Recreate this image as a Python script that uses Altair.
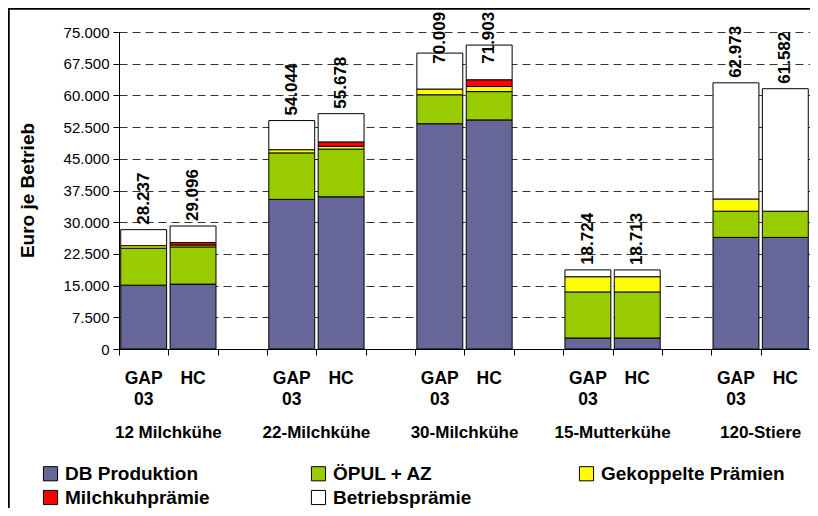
import altair as alt
import pandas as pd

groups = ["12 Milchkühe", "22-Milchkühe", "30-Milchkühe", "15-Mutterkühe", "120-Stiere"]
scenarios = ["GAP\n03", "HC"]
components = ["DB Produktion", "ÖPUL + AZ", "Gekoppelte Prämien", "Milchkuhprämie", "Betriebsprämie"]
colors = ["#666699", "#99CC00", "#FFFF00", "#FF0000", "#FFFFFF"]

# per bar: 12 GAP, 12 HC, 22 GAP, 22 HC, 30 GAP, 30 HC, 15 GAP, 15 HC, 120 GAP, 120 HC
db_produktion = [15100, 15350, 35400, 36000, 53300, 54200, 2600, 2600, 26400, 26400]
oepul_az = [8750, 8800, 11000, 11300, 6850, 6700, 10900, 10900, 6200, 6200]
gekoppelt = [600, 450, 750, 650, 1350, 1200, 3600, 3600, 2900, 0]
milchkuh = [0, 600, 0, 1050, 0, 1600, 0, 0, 0, 0]
betrieb = [3787, 3896, 6894, 6678, 8509, 8203, 1624, 1613, 27473, 28982]
totals = [28237, 29096, 54044, 55678, 70009, 71903, 18724, 18713, 62973, 61582]
total_labels = ["28.237", "29.096", "54.044", "55.678", "70.009", "71.903",
                "18.724", "18.713", "62.973", "61.582"]
y_ticks = [0, 7500, 15000, 22500, 30000, 37500, 45000, 52500, 60000, 67500, 75000]

FONT = "Liberation Sans"

slots = []
bar_slots = []
for gi, g in enumerate(groups):
    for s in scenarios:
        slots.append(f"{g}|{s}")
        bar_slots.append(f"{g}|{s}")
    if gi < len(groups) - 1:
        slots.append(f"spacer{gi}")

series = [db_produktion, oepul_az, gekoppelt, milchkuh, betrieb]
rows = []
for bi, slot in enumerate(bar_slots):
    for ci, comp in enumerate(components):
        v = series[ci][bi]
        if v > 0:
            rows.append({"slot": slot, "comp": comp, "ci": ci, "value": v})
bars_df = pd.DataFrame(rows)

lab_rows = []
for bi, slot in enumerate(bar_slots):
    g, s = slot.split("|")
    lab_rows.append({"slot": slot, "total": totals[bi], "label": total_labels[bi], "scen": s})
lab_df = pd.DataFrame(lab_rows)

grp_df = pd.DataFrame({"slot": [f"{g}|{scenarios[0]}" for g in groups], "group": groups})

xscale = alt.Scale(domain=slots, paddingInner=0, paddingOuter=0)
yscale = alt.Scale(domain=[0, 75000], nice=False)

x_axis = alt.Axis(labels=False, title=None, tickBand="extent", tickSize=6,
                  tickColor="black", domainColor="black", domainWidth=1, grid=False)
y_axis = alt.Axis(values=y_ticks, title="Euro je Betrieb",
                  labelExpr="replace(format(datum.value, ','), ',', '.')",
                  labelOverlap=False, labelBound=False, labelFlush=False,
                  labelFont=FONT, labelFontSize=15, labelColor="black",
                  labelPadding=4, tickSize=6, tickColor="black",
                  domainColor="black", grid=True, gridColor="#333333",
                  gridDash=[8, 5], gridWidth=1,
                  titleFont=FONT, titleFontSize=19, titleFontWeight="bold",
                  titleColor="black", titleX=-92, titleY=158,
                  titleAlign="center", titleBaseline="middle")

bars = alt.Chart(bars_df).mark_bar(
    width=alt.RelativeBandSize(0.93), stroke="black", strokeWidth=1
).encode(
    x=alt.X("slot:N", scale=xscale, sort=slots, axis=x_axis),
    y=alt.Y("value:Q", stack="zero", scale=yscale, axis=y_axis),
    color=alt.Color("comp:N", scale=alt.Scale(domain=components, range=colors),
                    legend=alt.Legend(title=None, orient="none", legendX=-78, legendY=432,
                                      columns=3, direction="horizontal",
                                      gridAlign="all", columnPadding=60, rowPadding=4,
                                      symbolType="square", symbolSize=200,
                                      symbolStrokeColor="black", symbolStrokeWidth=1,
                                      symbolOpacity=1,
                                      labelFont=FONT, labelFontSize=19, labelFontWeight="bold",
                                      labelColor="black", labelLimit=400, labelOffset=5)),
    order=alt.Order("ci:O", sort="ascending"),
)

value_labels = alt.Chart(lab_df).transform_calculate(
    ypos="min(datum.total, 66300)"
).mark_text(
    angle=270, align="left", baseline="middle", dx=5,
    font=FONT, fontSize=17, fontWeight="bold", color="black"
).encode(
    x=alt.X("slot:N", scale=xscale, sort=slots, axis=x_axis),
    y=alt.Y("ypos:Q", scale=yscale, axis=y_axis),
    text="label:N",
)

scen_labels = alt.Chart(lab_df).transform_calculate(
    base="0"
).mark_text(
    baseline="top", align="center", dy=21, lineBreak="\n", lineHeight=21,
    font=FONT, fontSize=17.5, fontWeight="bold", color="black"
).encode(
    x=alt.X("slot:N", scale=xscale, sort=slots, axis=x_axis),
    y=alt.Y("base:Q", scale=yscale, axis=y_axis),
    text="scen:N",
)

group_labels = alt.Chart(grp_df).transform_calculate(
    base="0"
).mark_text(
    baseline="top", align="center", dy=76,
    font=FONT, fontSize=17, fontWeight="bold", color="black"
).encode(
    x=alt.X("slot:N", scale=xscale, sort=slots, axis=x_axis, bandPosition=1),
    y=alt.Y("base:Q", scale=yscale, axis=y_axis),
    text="group:N",
)

frame_left = alt.Chart(grp_df).mark_rule(color="black", strokeWidth=1.5).encode(
    x=alt.value(-110.5), y=alt.value(-23.5), y2=alt.value(520))
frame_top = alt.Chart(grp_df).mark_rule(color="black", strokeWidth=1.5).encode(
    x=alt.value(-110.5), x2=alt.value(720), y=alt.value(-23.5))

chart = alt.layer(bars, value_labels, scen_labels, group_labels, frame_left, frame_top).properties(
    width=691, height=317,
    autosize=alt.AutoSizeParams(type="none"),
    padding={"left": 111, "top": 24, "right": 0, "bottom": 159},
    background="white",
).configure_view(stroke=None)

chart.save("out.html", embed_options={"renderer": "svg", "actions": False})
